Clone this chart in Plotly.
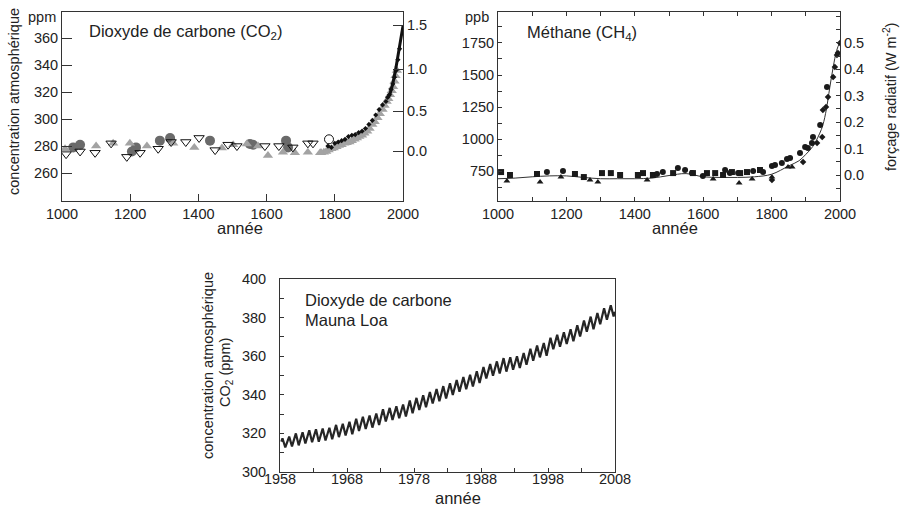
import plotly.graph_objects as go

# ---------------- Panel 1 : CO2 (ice cores) ----------------
co2_open_tri_years = [1012, 1053, 1097, 1144, 1190, 1229, 1282, 1320, 1363, 1402, 1449, 1487, 1513, 1595, 1636, 1677, 1721, 1736]
co2_open_tri_ppm = [274, 276, 275, 282, 272, 275, 278, 283, 283, 286, 277, 281, 280, 280, 280, 279, 282, 282]
co2_dark_circ_years = [1033, 1053, 1205, 1217, 1287, 1317, 1434, 1551, 1560, 1657, 1663]
co2_dark_circ_ppm = [279, 281, 276, 279, 284, 286, 284, 281.5, 281, 284, 279]
co2_grey_tri_years = [1009, 1100, 1150, 1199, 1249, 1326, 1388, 1469, 1502, 1542, 1575, 1604, 1648, 1683, 1721, 1757]
co2_grey_tri_ppm = [278, 280, 282, 282, 280, 282, 279, 278.5, 281, 281.5, 280, 273, 275.5, 275, 275.5, 275]
co2_open_circ_years = [1783]
co2_open_circ_ppm = [285]
co2_grey_dense_years = [1760, 1768, 1775, 1782, 1790, 1797, 1805, 1812, 1820, 1828, 1835, 1843, 1850, 1858, 1865, 1872, 1880, 1887, 1895, 1902, 1910, 1917, 1925, 1932, 1940, 1946, 1952, 1957, 1962, 1967, 1971, 1975, 1978, 1982]
co2_grey_dense_ppm = [275, 275.5, 276, 277, 278, 278.5, 279.5, 280.5, 281, 282, 282.5, 283, 284, 285, 286, 287, 288, 289.5, 291, 293, 296, 298, 301, 304, 307, 310, 313, 315, 318, 321, 324, 328, 332, 336]
co2_black_dense_years = [1780, 1790, 1800, 1810, 1820, 1830, 1840, 1850, 1860, 1870, 1880, 1890, 1900, 1910, 1920, 1930, 1940, 1950, 1955, 1960, 1965, 1970, 1975, 1980, 1985, 1990]
co2_black_dense_ppm = [280, 279, 282, 283, 284, 285, 287, 288, 288.5, 290, 291, 293, 296, 299, 303, 307, 310.5, 313, 316, 318, 322, 326, 331, 336, 344, 352]
co2_line_years = [1960, 1970, 1980, 1990, 2000]
co2_line_ppm = [317, 326, 339, 354, 369]
co2_forcing_labels = ["0.0", "0.5", "1.0", "1.5"]
co2_forcing_ppm_pos = [276.3, 305.9, 337.0, 369.6]

# ---------------- Panel 2 : CH4 ----------------
ch4_sq_years = [1009, 1035, 1114, 1225, 1251, 1304, 1330, 1357, 1409, 1424, 1453, 1512, 1570, 1611, 1635, 1658, 1684, 1708, 1728, 1766]
ch4_sq_ppb = [742, 719, 727, 727, 703, 734, 734, 719, 719, 734, 719, 734, 734, 734, 734, 719, 742, 734, 742, 758]
ch4_circ_years = [1143, 1190, 1465, 1482, 1526, 1547, 1567, 1599, 1664, 1678, 1702, 1746, 1775, 1801, 1810, 1830, 1845, 1854, 1883, 1898, 1906, 1918, 1921, 1942, 1962]
ch4_circ_ppb = [742, 750, 727, 742, 773, 758, 734, 711, 758, 734, 734, 750, 742, 789, 797, 812, 844, 852, 891, 938, 930, 969, 1016, 1109, 1406]
ch4_tri_years = [1026, 1123, 1184, 1269, 1292, 1436, 1629, 1705, 1743, 1801, 1848, 1860]
ch4_tri_ppb = [672, 664, 703, 680, 664, 680, 687, 656, 687, 703, 781, 781]
ch4_dia_years = [1801, 1892, 1933, 1948, 1950, 1959, 1965, 1980, 1985, 1991, 1994, 2000]
ch4_dia_ppb = [680, 820, 969, 1016, 1227, 1250, 1328, 1484, 1563, 1656, 1672, 1750]
ch4_fit_years = [1000, 1050, 1100, 1150, 1200, 1250, 1300, 1350, 1400, 1450, 1500, 1550, 1600, 1650, 1700, 1750, 1800, 1850, 1880, 1900, 1920, 1940, 1950, 1960, 1970, 1980, 1990, 2000]
ch4_fit_ppb = [690, 695, 705, 712, 712, 700, 690, 690, 690, 695, 715, 730, 705, 700, 700, 705, 725, 790, 830, 880, 940, 1040, 1110, 1230, 1400, 1560, 1690, 1760]

# ---------------- Panel 3 : Mauna Loa ----------------
ml_years = list(range(1958, 2008))
ml_may_peak = [317.5, 318.3, 320.0, 320.6, 321.6, 322.1, 322.5, 322.9, 324.4, 325.0,
               326.0, 327.6, 328.6, 329.3, 330.3, 332.5, 333.2, 334.0, 335.0, 337.0,
               338.4, 339.8, 341.5, 343.0, 344.5, 346.0, 347.6, 349.2, 350.4, 352.2,
               354.4, 355.9, 357.3, 359.0, 359.4, 360.0, 361.7, 363.8, 365.5, 366.8,
               369.6, 371.1, 372.4, 374.0, 376.0, 378.5, 380.5, 382.4, 384.9, 386.4]
ml_oct_trough = [312.7, 313.3, 313.8, 314.8, 315.4, 315.7, 316.3, 317.0, 318.1, 318.9,
                 319.6, 321.3, 322.3, 323.0, 324.3, 326.2, 327.0, 327.9, 328.7, 330.4,
                 332.1, 333.6, 335.5, 336.7, 338.1, 339.9, 341.6, 342.9, 344.3, 346.1,
                 348.5, 349.9, 351.0, 352.0, 353.0, 353.9, 355.6, 357.6, 359.4, 360.2,
                 363.6, 364.9, 366.3, 367.8, 370.2, 372.7, 373.9, 376.6, 378.9, 380.6]
ml_start = (1958.2, 315.7)
ml_end = (2008.0, 383.0)

# build the Mauna Loa series (May peak / October trough of each year)
ml_x = [ml_start[0]]
ml_y = [ml_start[1]]
for yr, pk, tr in zip(ml_years, ml_may_peak, ml_oct_trough):
    ml_x += [yr + 0.37, yr + 0.79]
    ml_y += [pk, tr]
ml_x.append(ml_end[0])
ml_y.append(ml_end[1])

FONT = "Liberation Sans, Arial, sans-serif"
INK = "#222222"
W, H = 900, 506

fig = go.Figure()

# Panel 1 traces
fig.add_trace(go.Scatter(x=co2_dark_circ_years, y=co2_dark_circ_ppm, mode="markers",
                         marker=dict(symbol="circle", size=10, color="#6a6a6a"), xaxis="x", yaxis="y"))
fig.add_trace(go.Scatter(x=co2_grey_tri_years, y=co2_grey_tri_ppm, mode="markers",
                         marker=dict(symbol="triangle-up", size=9, color="#a3a3a3"), xaxis="x", yaxis="y"))
fig.add_trace(go.Scatter(x=co2_open_tri_years, y=co2_open_tri_ppm, mode="markers",
                         marker=dict(symbol="triangle-down-open", size=9, color="#111111", line=dict(width=1)),
                         xaxis="x", yaxis="y"))
fig.add_trace(go.Scatter(x=co2_open_circ_years, y=co2_open_circ_ppm, mode="markers",
                         marker=dict(symbol="circle-open", size=9, color="#111111", line=dict(width=1)),
                         xaxis="x", yaxis="y"))
fig.add_trace(go.Scatter(x=co2_grey_dense_years, y=co2_grey_dense_ppm, mode="markers",
                         marker=dict(symbol="triangle-up", size=9, color="#a3a3a3"), xaxis="x", yaxis="y"))
fig.add_trace(go.Scatter(x=co2_black_dense_years, y=co2_black_dense_ppm, mode="markers",
                         marker=dict(symbol="diamond", size=4, color="#111111"), xaxis="x", yaxis="y"))
fig.add_trace(go.Scatter(x=co2_line_years, y=co2_line_ppm, mode="lines",
                         line=dict(color="#111111", width=3), xaxis="x", yaxis="y"))
# invisible trace to activate right axis
fig.add_trace(go.Scatter(x=[co2_line_years[0]], y=[co2_line_ppm[0]], mode="markers",
                         marker=dict(opacity=0), xaxis="x", yaxis="y2", hoverinfo="skip"))

# Panel 2 traces
fig.add_trace(go.Scatter(x=ch4_fit_years, y=ch4_fit_ppb, mode="lines", line=dict(color="#333333", width=1, shape="spline"),
                         xaxis="x2", yaxis="y3"))
fig.add_trace(go.Scatter(x=ch4_sq_years, y=ch4_sq_ppb, mode="markers",
                         marker=dict(symbol="square", size=6, color="#1a1a1a"), xaxis="x2", yaxis="y3"))
fig.add_trace(go.Scatter(x=ch4_circ_years, y=ch4_circ_ppb, mode="markers",
                         marker=dict(symbol="circle", size=6, color="#1a1a1a"), xaxis="x2", yaxis="y3"))
fig.add_trace(go.Scatter(x=ch4_tri_years, y=ch4_tri_ppb, mode="markers",
                         marker=dict(symbol="triangle-up", size=6, color="#1a1a1a"), xaxis="x2", yaxis="y3"))
fig.add_trace(go.Scatter(x=ch4_dia_years, y=ch4_dia_ppb, mode="markers",
                         marker=dict(symbol="diamond", size=5, color="#1a1a1a"), xaxis="x2", yaxis="y3"))
fig.add_trace(go.Scatter(x=[ch4_fit_years[0]], y=[0], mode="markers", marker=dict(opacity=0),
                         xaxis="x2", yaxis="y4", hoverinfo="skip"))

# Panel 3 trace
fig.add_trace(go.Scatter(x=ml_x, y=ml_y, mode="lines", line=dict(color="#262626", width=2.2),
                         xaxis="x3", yaxis="y5"))

tickfont = dict(family=FONT, size=14.5, color=INK)
common = dict(showgrid=False, zeroline=False, showline=True, linecolor="#333333", linewidth=1,
              ticks="inside", tickcolor="#333333", tickfont=tickfont, automargin=False)

def px2x(px):
    return px / W

def py2y(py):
    return 1 - py / H

top_dom = [py2y(201), py2y(12)]
bot_dom = [py2y(472), py2y(279)]

fig.update_layout(
    template="none",
    width=W, height=H, margin=dict(l=0, r=0, t=0, b=0, pad=0, autoexpand=False),
    paper_bgcolor="white", plot_bgcolor="white", showlegend=False,
    font=dict(family=FONT, color=INK),
    xaxis=dict(domain=[px2x(62), px2x(403)], anchor="y", range=[1000, 2000],
               tickvals=list(range(1000, 2001, 200)), ticklen=7, mirror=True, **common),
    yaxis=dict(domain=top_dom, anchor="x", range=[239.3, 379.3],
               tickvals=list(range(260, 361, 20)), ticklen=10, ticklabelstandoff=0, **common),
    yaxis2=dict(overlaying="y", anchor="x", side="right", range=[239.3, 379.3],
                tickvals=co2_forcing_ppm_pos, ticktext=co2_forcing_labels, ticklen=10, **common),
    xaxis2=dict(domain=[px2x(498), px2x(840)], anchor="y3", range=[1000, 2000],
                tickvals=list(range(1000, 2001, 200)), ticklen=4, mirror="ticks",
                minor=dict(dtick=100, tick0=1000, ticks="inside", ticklen=4, tickcolor="#333333"), **common),
    yaxis3=dict(domain=top_dom, anchor="x2", range=[516, 1992],
                tickvals=[750, 1000, 1250, 1500, 1750], ticklen=4,
                minor=dict(dtick=125, tick0=0, ticks="inside", ticklen=4, tickcolor="#333333"), **common),
    yaxis4=dict(overlaying="y3", anchor="x2", side="right", range=[-0.0985, 0.6174],
                tickvals=[0, 0.1, 0.2, 0.3, 0.4, 0.5], ticktext=["0.0", "0.1", "0.2", "0.3", "0.4", "0.5"],
                ticklen=4, minor=dict(dtick=0.05, tick0=0, ticks="inside", ticklen=4, tickcolor="#333333"), **common),
    xaxis3=dict(domain=[px2x(280), px2x(615)], anchor="y5", range=[1958, 2008],
                tickvals=list(range(1958, 2009, 10)), ticklen=4, mirror=True, ticklabelstandoff=-6,
                minor=dict(dtick=5, tick0=1958, ticks="inside", ticklen=4, tickcolor="#333333"), **common),
    yaxis5=dict(domain=bot_dom, anchor="x3", range=[300, 400],
                tickvals=list(range(300, 401, 20)), ticklen=4, mirror=True, ticklabelstandoff=10,
                minor=dict(dtick=10, tick0=300, ticks="inside", ticklen=4, tickcolor="#333333"), **common),
)

def ann(text, px, py, size=14, xanchor="center", yanchor="middle", angle=0):
    fig.add_annotation(text=text, x=px2x(px), y=py2y(py), xref="paper", yref="paper",
                       xanchor=xanchor, yanchor=yanchor, showarrow=False, textangle=angle,
                       font=dict(family=FONT, size=size, color=INK))

ann("ppm", 42, 17, size=14.5)
ann("Dioxyde de carbone (CO<sub>2</sub>)", 87, 32, size=16.5, xanchor="left")
ann("année", 240, 228, size=16.5)
ann("concentration atmosphérique", 14, 102, size=14.5, angle=-90)
ann("ppb", 477, 17, size=14.5)
ann("Méthane (CH<sub>4</sub>)", 525, 33, size=16.5, xanchor="left")
ann("année", 675, 228, size=16.5)
ann("forçage radiatif (W m<sup>-2</sup>)", 890, 97, size=14.5, angle=-90)
ann("Dioxyde de carbone", 303, 300, size=16.5, xanchor="left")
ann("Mauna Loa", 303, 320, size=16.5, xanchor="left")
ann("concentration atmosphérique", 208, 366, size=14.5, angle=-90)
ann("CO<sub>2</sub> (ppm)", 226, 373, size=14.5, angle=-90)
ann("année", 458, 498, size=16.5)

fig.write_html("out.html", config={"displayModeBar": False},
               post_script="document.body.style.margin='0px';document.body.style.overflow='hidden';")
